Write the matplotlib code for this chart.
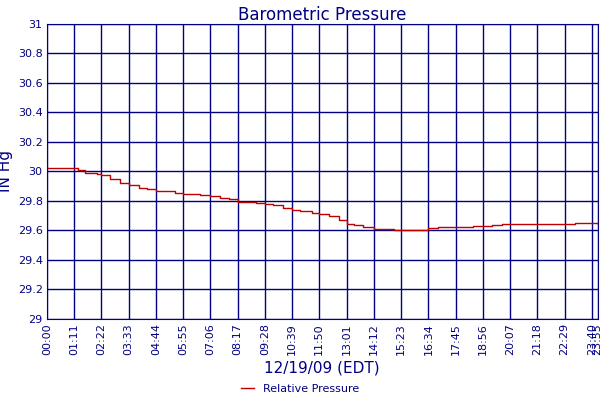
import matplotlib
matplotlib.use("Agg")
import matplotlib.pyplot as plt

tick_labels = ["00:00","01:11","02:22","03:33","04:44","05:55","07:06","08:17","09:28","10:39",
               "11:50","13:01","14:12","15:23","16:34","17:45","18:56","20:07","21:18","22:29","23:40","23:55"]
# sample times (minutes) and pressure readings (inHg)
times = [0, 35, 60, 80, 100, 130, 142, 165, 190, 213, 240, 260, 284, 310, 335, 355, 380, 400, 426,
         450, 475, 497, 520, 545, 568, 590, 615, 639, 660, 690, 710, 735, 760, 781, 800, 825, 852,
         880, 905, 923, 950, 975, 994, 1020, 1045, 1065, 1090, 1110, 1136, 1160, 1185, 1207, 1230,
         1255, 1278, 1300, 1325, 1349, 1375, 1400, 1420, 1435]
pressure = [30.02, 30.02, 30.02, 30.01, 29.99, 29.98, 29.975, 29.95, 29.92, 29.91, 29.89, 29.88,
            29.87, 29.865, 29.855, 29.845, 29.845, 29.84, 29.835, 29.82, 29.81, 29.795, 29.79, 29.785,
            29.78, 29.77, 29.75, 29.74, 29.73, 29.715, 29.71, 29.70, 29.67, 29.645, 29.635, 29.62,
            29.61, 29.61, 29.605, 29.60, 29.60, 29.605, 29.615, 29.62, 29.62, 29.625, 29.625, 29.628,
            29.63, 29.635, 29.64, 29.645, 29.64, 29.64, 29.64, 29.64, 29.645, 29.645, 29.648, 29.65,
            29.648, 29.645]
yticks = [29, 29.2, 29.4, 29.6, 29.8, 30, 30.2, 30.4, 30.6, 30.8, 31]

navy = "#000080"
fig = plt.figure(figsize=(6, 4), dpi=100)
ax = fig.add_axes([0.078, 0.203, 0.918, 0.737])
ax.step(times, pressure, where="post", color="#c00000", lw=1, label="Relative Pressure")
xt = [i * 71 for i in range(21)] + [1435]
ax.set_xticks(xt)
ax.set_xticklabels(tick_labels, rotation=90, fontsize=8, color=navy)
ax.set_yticks(yticks)
ax.set_yticklabels([f"{v:g}" for v in yticks], fontsize=8, color=navy)
ax.set_xlim(0, 1435)
ax.set_ylim(29, 31)
ax.grid(True, color=navy, lw=1)
ax.tick_params(length=0, pad=3)
for s in ax.spines.values():
    s.set_color(navy)
ax.set_title("Barometric Pressure", color=navy, fontsize=12, pad=3)
ax.set_ylabel("IN Hg", color=navy, fontsize=11)
ax.yaxis.set_label_coords(-0.062, 0.5)
ax.set_xlabel("12/19/09 (EDT)", color=navy, fontsize=11, labelpad=4)
fig.legend(loc="lower center", bbox_to_anchor=(0.5, -0.01), frameon=False, fontsize=8,
           labelcolor=navy, handlelength=1.2)
fig.savefig("out.png", dpi=100)
